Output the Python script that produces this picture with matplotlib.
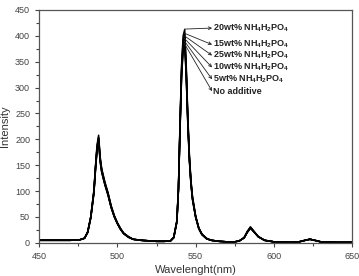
import numpy as np
import matplotlib.pyplot as plt
from matplotlib.ticker import MultipleLocator

plt.rcParams['font.family'] = ['Liberation Sans', 'DejaVu Sans']
plt.rcParams['mathtext.fontset'] = 'custom'
plt.rcParams['mathtext.rm'] = 'Liberation Sans:bold'
plt.rcParams['mathtext.it'] = 'Liberation Sans:bold'
plt.rcParams['mathtext.default'] = 'rm'

# wavelength grid (nm)
wl = [450, 460, 470, 476, 479, 481, 483, 485, 486, 487, 488, 489, 490, 492, 494,
      496, 498, 500, 502, 504, 507, 510, 515, 520, 525, 530, 534, 536, 538, 539,
      540, 541, 542, 543, 544, 545, 546, 547, 548, 550, 552, 554, 557, 560, 565,
      570, 575, 578, 581, 583, 585, 587, 590, 594, 600, 610, 616, 620, 623, 626,
      630, 640, 650]

# emission spectra
i_none = [5, 5, 5, 6, 9, 20, 48, 96, 140, 178, 196, 156, 136, 112, 92,
          68, 50, 37, 26, 18, 11, 7, 5, 4, 3, 3, 4, 10, 40, 100,
          215, 320, 372, 383, 318, 228, 158, 113, 83, 49, 27, 16, 8, 5, 3,
          2, 2, 4, 10, 20, 28, 22, 12, 5, 2, 1, 2, 5, 7, 5,
          2, 1, 1]
i_5 = [5, 5, 5, 6, 9, 20, 49, 97, 142, 180, 198, 158, 137, 113, 93,
       69, 51, 37, 26, 18, 11, 7, 5, 4, 3, 3, 4, 10, 41, 102,
       218, 324, 377, 388, 322, 231, 160, 114, 84, 50, 28, 16, 8, 5, 3,
       2, 2, 4, 10, 21, 29, 22, 12, 5, 2, 1, 2, 5, 7, 5,
       2, 1, 1]
i_10 = [5, 5, 5, 6, 9, 20, 49, 98, 143, 182, 200, 160, 138, 114, 94,
        69, 51, 38, 27, 18, 11, 7, 5, 4, 3, 3, 4, 10, 41, 103,
        221, 328, 382, 393, 326, 234, 162, 116, 85, 50, 28, 16, 8, 5, 3,
        2, 2, 4, 10, 21, 29, 22, 12, 5, 2, 1, 2, 5, 7, 5,
        2, 1, 1]
i_25 = [5, 5, 5, 6, 9, 21, 50, 99, 145, 184, 202, 162, 140, 115, 95,
        70, 52, 38, 27, 18, 12, 7, 5, 4, 3, 3, 4, 11, 42, 104,
        224, 332, 387, 398, 330, 237, 164, 117, 86, 51, 28, 17, 8, 5, 3,
        2, 2, 4, 10, 21, 30, 23, 12, 5, 2, 1, 2, 5, 7, 5,
        2, 1, 1]
i_15 = [5, 5, 5, 6, 9, 21, 50, 100, 146, 186, 204, 163, 141, 116, 96,
        71, 52, 38, 27, 19, 12, 7, 5, 4, 3, 3, 4, 11, 42, 105,
        226, 336, 392, 403, 334, 240, 166, 118, 87, 51, 29, 17, 8, 5, 3,
        2, 2, 4, 10, 22, 30, 23, 12, 5, 2, 1, 2, 5, 7, 5,
        2, 1, 1]
i_20 = [5, 5, 5, 6, 9, 21, 51, 102, 148, 189, 208, 166, 143, 118, 97,
        72, 53, 39, 28, 19, 12, 7, 5, 4, 3, 3, 4, 11, 43, 107,
        231, 343, 400, 412, 341, 245, 169, 121, 89, 52, 29, 17, 9, 5, 3,
        2, 2, 4, 10, 22, 31, 23, 12, 5, 2, 1, 2, 5, 7, 5,
        2, 1, 1]

series = [i_none, i_5, i_10, i_25, i_15, i_20]

labels = [r'20wt% NH$_4$H$_2$PO$_4$', r'15wt% NH$_4$H$_2$PO$_4$',
          r'25wt% NH$_4$H$_2$PO$_4$', r'10wt% NH$_4$H$_2$PO$_4$',
          r'5wt% NH$_4$H$_2$PO$_4$', 'No additive']
label_y = [415, 383, 362, 339, 316, 293]
arrow_from_y = [413, 405, 400, 395, 390, 385]

fig = plt.figure(figsize=(3.59, 2.76), dpi=100)
ax = fig.add_axes([0.109, 0.12, 0.872, 0.844])

for s in series:
    ax.plot(wl, s, color='black', lw=1.1)

for lab, ty, fy in zip(labels, label_y, arrow_from_y):
    ax.annotate('', xy=(560.5, ty), xytext=(542.8, fy),
                arrowprops=dict(arrowstyle='->', color='#222222', lw=0.6,
                                shrinkA=0, shrinkB=0, mutation_scale=5))
    ax.text(561.3, ty, lab, fontsize=6.5, fontweight='bold', color='#222222',
            va='center', ha='left')

ax.set_xlim(450, 650)
ax.set_ylim(0, 450)
ax.xaxis.set_major_locator(MultipleLocator(50))
ax.xaxis.set_minor_locator(MultipleLocator(25))
ax.yaxis.set_major_locator(MultipleLocator(50))
ax.yaxis.set_minor_locator(MultipleLocator(25))
ax.tick_params(which='both', direction='out', top=False, right=False,
               labelsize=6.5, colors='#444444', width=0.8)
ax.tick_params(which='major', length=3)
ax.tick_params(which='minor', length=2)
for sp in ax.spines.values():
    sp.set_color('#555555')
    sp.set_linewidth(0.9)

ax.set_xlabel('Wavelenght(nm)', fontsize=8, color='#333333', labelpad=3)
ax.set_ylabel('Intensity', fontsize=8, color='#333333', labelpad=4)

fig.savefig('out.png', dpi=100)
